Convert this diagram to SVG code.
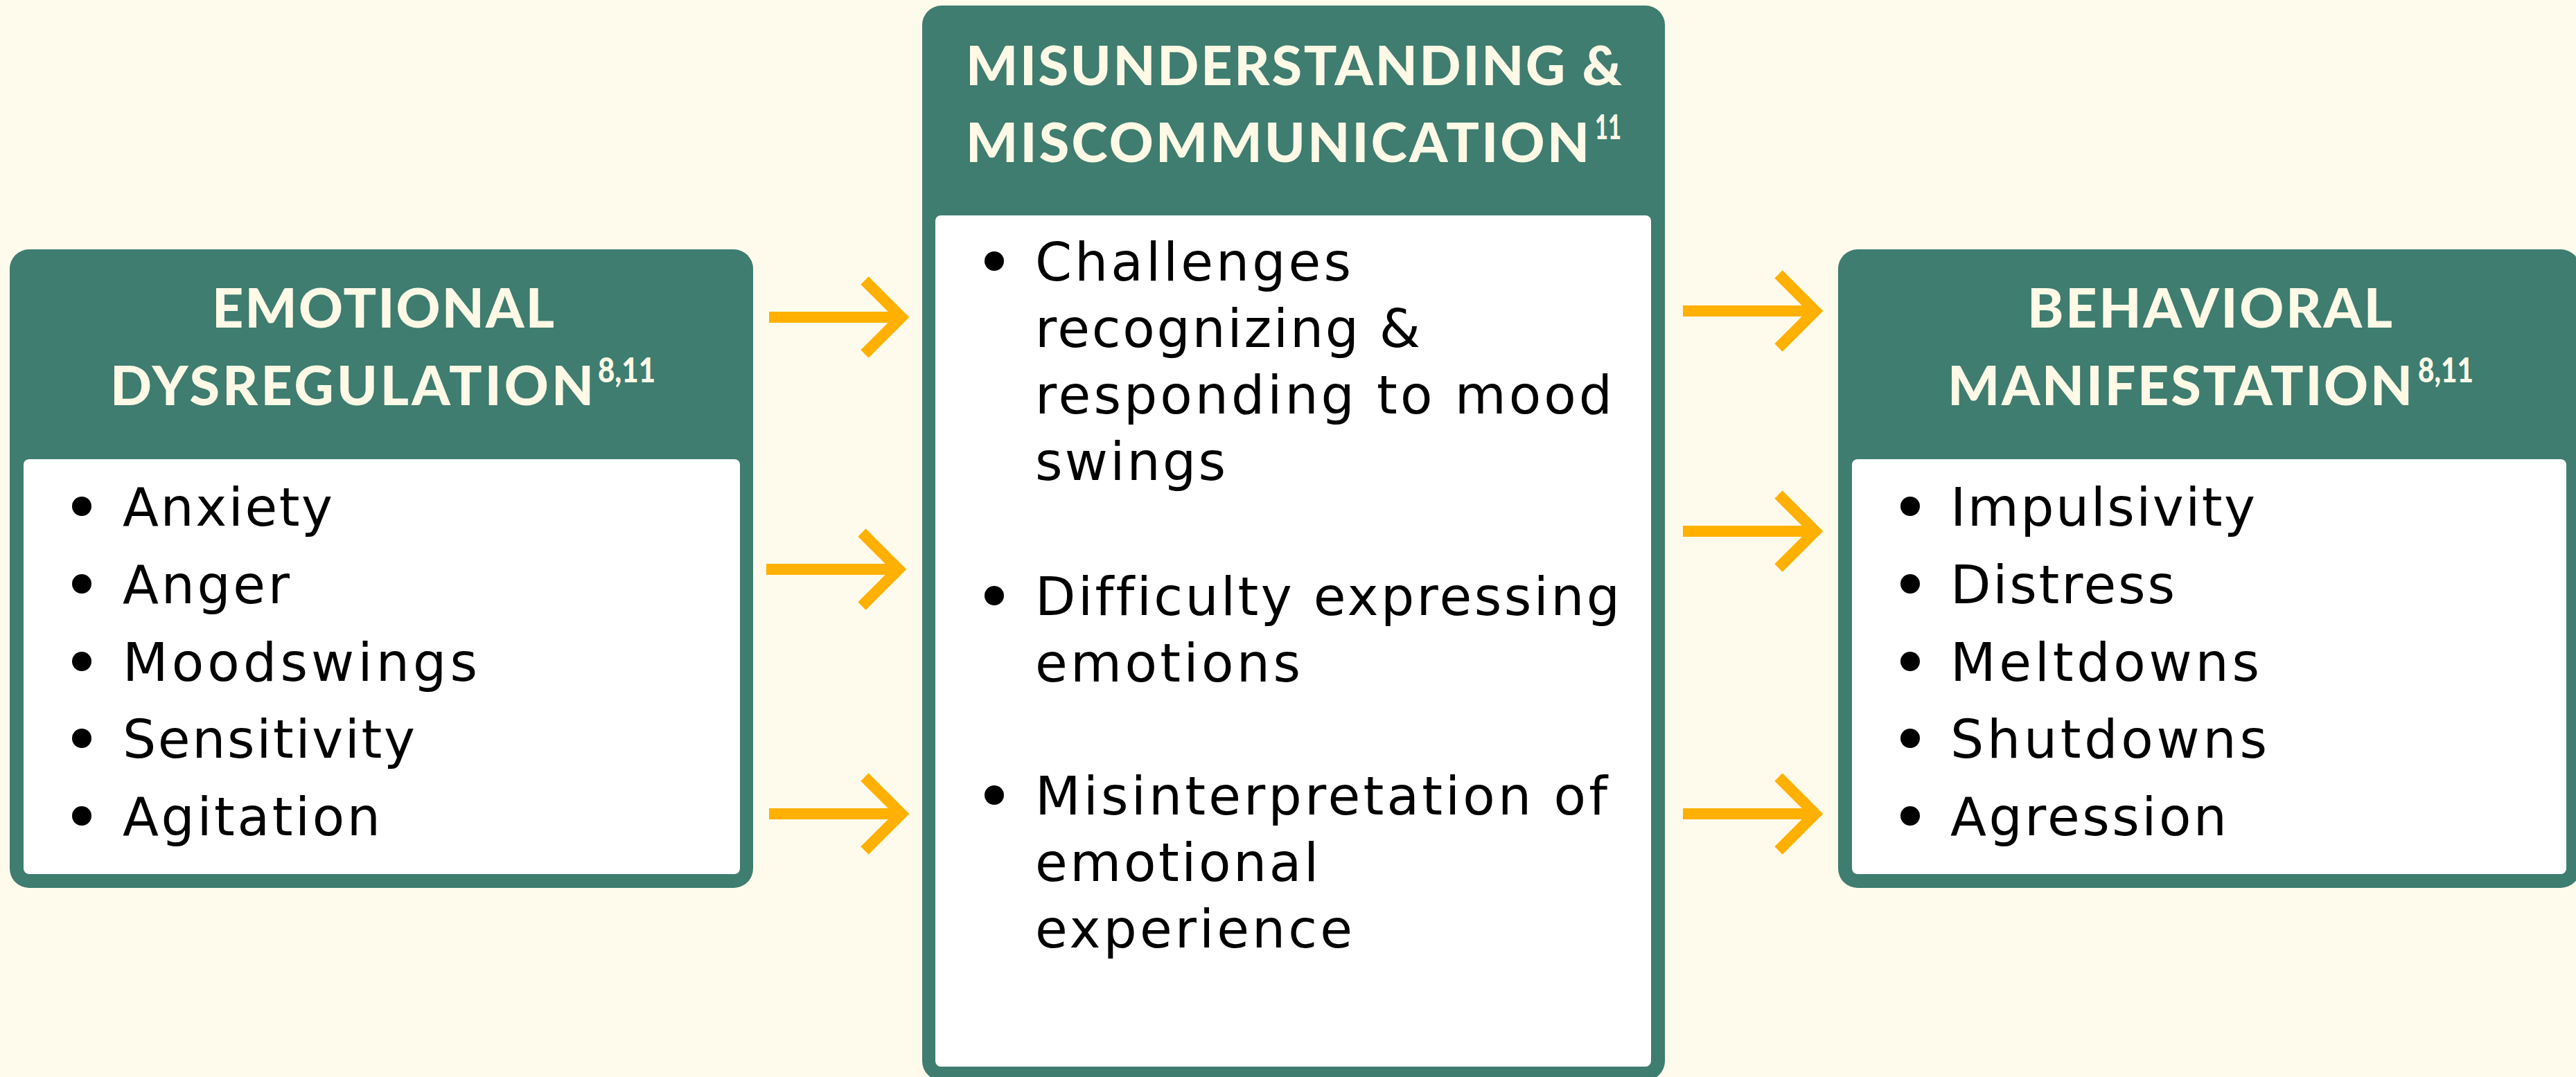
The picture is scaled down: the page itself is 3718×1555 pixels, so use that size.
<svg xmlns="http://www.w3.org/2000/svg" width="3718" height="1555" viewBox="0 0 3718 1555">
<defs>
<style>
.bg{fill:#FFFBEC}
.box{fill:#3E7D70}
.inner{fill:#FFFFFF}
text{font-variant-ligatures:none;font-feature-settings:"liga" 0}
.hd{font-family:"Lato","Inter","Liberation Sans",sans-serif;font-weight:900;font-size:79px;fill:#FFF9E6}
.sup{font-family:"Lato","Inter","Liberation Sans",sans-serif;font-weight:900;font-size:50px;fill:#FFF9E6}
.bd{font-family:"DejaVu Sans","Inter","Liberation Sans",sans-serif;font-weight:400;font-size:76px;fill:#000000}
.dot{fill:#000000}
.arr{fill:none;stroke:#FFB000;stroke-width:16;stroke-linejoin:miter;stroke-miterlimit:10}
</style>
</defs>
<rect class="bg" x="0" y="0" width="3718" height="1555"/>

<g id="node-emotional-dysregulation">
<rect class="box" x="14" y="360" width="1073" height="922" rx="28"/>
<rect class="inner" x="34" y="663" width="1034" height="599" rx="8"/>
<text class="hd" x="306" y="473" textLength="494">EMOTIONAL</text>
<text class="hd" x="159" y="585" textLength="698">DYSREGULATION</text>
<text class="sup" x="863" y="552" textLength="83" lengthAdjust="spacingAndGlyphs">8,11</text>
<circle class="dot" cx="118" cy="731" r="14"/>
<text class="bd" x="177" y="759" textLength="303">Anxiety</text>
<circle class="dot" cx="118" cy="843" r="14"/>
<text class="bd" x="177" y="871" textLength="241">Anger</text>
<circle class="dot" cx="118" cy="955" r="14"/>
<text class="bd" x="177" y="983" textLength="512">Moodswings</text>
<circle class="dot" cx="118" cy="1066" r="14"/>
<text class="bd" x="177" y="1094" textLength="422">Sensitivity</text>
<circle class="dot" cx="118" cy="1178" r="14"/>
<text class="bd" x="177" y="1206" textLength="372">Agitation</text>
</g>

<g id="node-misunderstanding">
<rect class="box" x="1331" y="8" width="1072" height="1552" rx="28"/>
<rect class="inner" x="1350" y="311" width="1033" height="1229" rx="8"/>
<text class="hd" x="1394" y="123" textLength="947">MISUNDERSTANDING &amp;</text>
<text class="hd" x="1394" y="234" textLength="900">MISCOMMUNICATION</text>
<text class="sup" x="2302" y="201" textLength="38" lengthAdjust="spacingAndGlyphs">11</text>
<circle class="dot" cx="1435" cy="377" r="14"/>
<text class="bd" x="1494" y="405" textLength="456">Challenges</text>
<text class="bd" x="1494" y="501" textLength="556">recognizing &amp;</text>
<text class="bd" x="1494" y="597" textLength="833">responding to mood</text>
<text class="bd" x="1494" y="693" textLength="275">swings</text>
<circle class="dot" cx="1435" cy="860" r="14"/>
<text class="bd" x="1494" y="888" textLength="844">Difficulty expressing</text>
<text class="bd" x="1494" y="984" textLength="383">emotions</text>
<circle class="dot" cx="1435" cy="1148" r="14"/>
<text class="bd" x="1494" y="1176" textLength="826">Misinterpretation of</text>
<text class="bd" x="1494" y="1272" textLength="409">emotional</text>
<text class="bd" x="1494" y="1368" textLength="458">experience</text>
</g>

<g id="node-behavioral-manifestation">
<rect class="box" x="2653" y="360" width="1071" height="922" rx="28"/>
<rect class="inner" x="2673" y="663" width="1031" height="599" rx="8"/>
<text class="hd" x="2926" y="473" textLength="527">BEHAVIORAL</text>
<text class="hd" x="2811" y="585" textLength="671">MANIFESTATION</text>
<text class="sup" x="3490" y="552" textLength="80" lengthAdjust="spacingAndGlyphs">8,11</text>
<circle class="dot" cx="2757" cy="731" r="14"/>
<text class="bd" x="2815" y="759" textLength="440">Impulsivity</text>
<circle class="dot" cx="2757" cy="843" r="14"/>
<text class="bd" x="2815" y="871" textLength="324">Distress</text>
<circle class="dot" cx="2757" cy="955" r="14"/>
<text class="bd" x="2815" y="983" textLength="446">Meltdowns</text>
<circle class="dot" cx="2757" cy="1066" r="14"/>
<text class="bd" x="2815" y="1094" textLength="457">Shutdowns</text>
<circle class="dot" cx="2757" cy="1178" r="14"/>
<text class="bd" x="2815" y="1206" textLength="399">Agression</text>
</g>

<g id="connectors">
<path class="arr" d="M1110 458 H1298 M1248 405 L1301 458 L1248 511"/>
<path class="arr" d="M1106 822 H1294 M1244 769 L1297 822 L1244 875"/>
<path class="arr" d="M1110 1175 H1298 M1248 1122 L1301 1175 L1248 1228"/>
<path class="arr" d="M2429 449 H2617 M2567 396 L2620 449 L2567 502"/>
<path class="arr" d="M2429 767 H2617 M2567 714 L2620 767 L2567 820"/>
<path class="arr" d="M2429 1175 H2617 M2567 1122 L2620 1175 L2567 1228"/>
</g>
</svg>
